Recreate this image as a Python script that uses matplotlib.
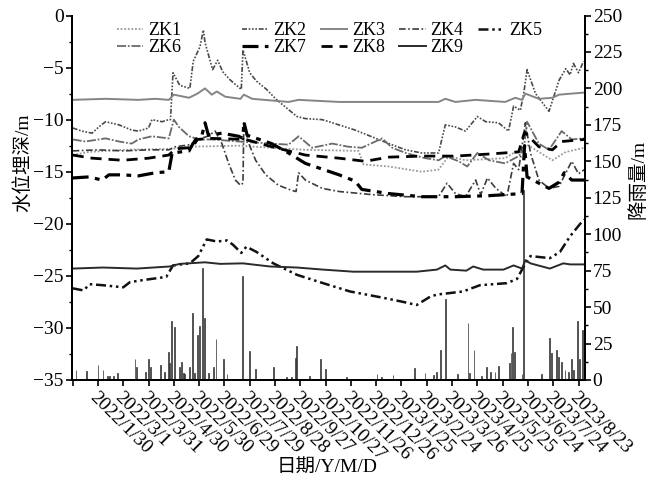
import matplotlib
matplotlib.use('Agg')
import matplotlib.pyplot as plt
import matplotlib.dates as mdates
from matplotlib.ticker import MultipleLocator
import numpy as np
import pandas as pd

plt.rcParams['font.family'] = ['Liberation Serif', 'Noto Sans CJK SC']
plt.rcParams['axes.unicode_minus'] = True

BASE = '2021-12-31'   # day 0 of every *_days list

# ---------------- data (days after BASE, water level in m) ----------------
zk1_days = [0, 19, 59, 118, 138, 197, 236, 276, 339, 345, 375, 414, 434, 446, 466, 513, 529, 539, 561, 569, 585, 607]
zk1_vals = [-13.4, -13.1, -12.9, -12.8, -12.6, -12.5, -12.7, -12.9, -13.0, -14.3, -14.5, -15.0, -14.8, -13.5, -13.9,
            -13.7, -12.9, -12.4, -13.5, -13.9, -13.1, -12.7]

zk2_days = [0, 11, 23, 31, 39, 55, 70, 78, 90, 94, 106, 114, 116, 119, 127, 139, 143, 151, 155, 157, 166, 172, 178,
            187, 200, 202, 210, 218, 230, 242, 257, 266, 276, 296, 304, 335, 375, 395, 414, 434, 442, 454, 466, 480,
            490, 505, 517, 523, 531, 535, 539, 549, 565, 577, 585, 590, 594, 600, 606]
zk2_vals = [-10.8, -11.1, -11.3, -10.7, -10.2, -10.5, -11.0, -11.1, -10.8, -10.0, -10.2, -10.0, -10.0, -5.5, -6.7,
            -7.0, -4.4, -3.0, -1.4, -2.6, -5.2, -4.3, -5.4, -6.2, -7.1, -3.3, -5.5, -6.3, -7.1, -8.1, -9.1, -9.7,
            -9.9, -10.0, -10.2, -11.0, -12.3, -12.9, -13.2, -13.2, -10.5, -10.7, -11.1, -9.7, -10.2, -10.3, -11.1,
            -8.7, -9.1, -7.5, -5.2, -7.5, -9.2, -6.2, -5.1, -5.7, -4.6, -5.5, -4.4]

zk3_days = [0, 39, 78, 98, 114, 120, 138, 148, 157, 165, 171, 181, 199, 203, 213, 256, 268, 316, 395, 434, 442, 454,
            478, 513, 525, 533, 537, 553, 569, 577, 592, 607]
zk3_vals = [-8.1, -8.0, -8.1, -8.0, -8.1, -7.6, -7.9, -7.5, -7.0, -7.6, -7.3, -7.8, -8.0, -7.6, -8.0, -8.3, -8.1,
            -8.3, -8.3, -8.3, -8.0, -8.3, -8.1, -8.3, -7.9, -8.1, -7.5, -8.0, -7.9, -7.6, -7.5, -7.4]

zk4_days = [0, 30, 60, 90, 114, 122, 140, 148, 160, 169, 177, 185, 193, 199, 202, 203, 209, 217, 229, 244, 260, 265,
            268, 276, 296, 316, 355, 395, 434, 444, 454, 466, 478, 484, 492, 502, 515, 523, 529, 533, 537, 543, 553,
            565, 577, 585, 592, 600, 607]
zk4_vals = [-13.0, -12.9, -13.0, -12.9, -12.9, -12.6, -12.4, -11.9, -11.6, -11.1, -12.3, -14.2, -15.8, -16.3, -16.1,
            -10.3, -12.3, -13.9, -15.3, -16.3, -16.8, -16.9, -15.1, -15.8, -16.6, -16.9, -17.2, -17.4, -17.4, -16.1,
            -17.1, -17.4, -15.8, -17.2, -15.6, -16.6, -17.4, -14.2, -14.8, -12.6, -10.3, -13.2, -15.8, -16.6, -16.4,
            -15.1, -14.0, -15.2, -14.8]

zk5_days = [0, 13, 20, 36, 60, 68, 84, 111, 119, 139, 149, 159, 171, 183, 190, 200, 206, 218, 238, 266, 297, 329,
            368, 392, 408, 424, 432, 463, 483, 515, 527, 537, 543, 566, 578, 590, 602, 607]
zk5_vals = [-26.2, -26.4, -25.8, -25.9, -26.1, -25.6, -25.4, -25.1, -24.0, -23.8, -23.1, -21.5, -21.7, -21.6, -22.0,
            -22.8, -22.2, -22.7, -23.8, -24.9, -25.7, -26.5, -27.1, -27.5, -27.8, -27.0, -26.8, -26.5, -25.9, -25.7,
            -25.3, -23.8, -23.1, -23.3, -22.7, -21.2, -20.0, -19.6]

zk6_days = [0, 15, 39, 55, 70, 78, 94, 114, 120, 126, 138, 150, 165, 197, 236, 256, 268, 284, 308, 327, 343, 367,
            379, 395, 418, 434, 442, 458, 468, 480, 494, 513, 529, 535, 539, 553, 565, 580, 592, 607]
zk6_vals = [-11.9, -12.1, -11.8, -12.1, -12.3, -11.9, -11.6, -11.8, -10.0, -10.7, -11.6, -11.9, -11.9, -12.1, -12.3,
            -12.4, -11.6, -12.7, -12.3, -12.6, -12.7, -11.8, -12.7, -13.2, -13.7, -13.9, -13.5, -14.0, -14.5, -13.2,
            -13.9, -14.2, -13.5, -12.9, -10.2, -12.3, -12.9, -11.1, -11.9, -11.8]

zk7_days = [0, 19, 35, 43, 59, 78, 98, 114, 118, 138, 142, 146, 153, 157, 161, 177, 197, 202, 203, 207, 236, 256,
            276, 316, 335, 343, 375, 414, 454, 494, 533, 536, 539, 553, 565, 577, 583, 592, 607]
zk7_vals = [-15.6, -15.5, -15.8, -15.3, -15.3, -15.4, -15.1, -15.0, -13.2, -13.0, -12.4, -11.9, -11.6, -10.3, -11.5,
            -11.3, -11.6, -11.8, -10.2, -11.5, -12.3, -13.2, -14.2, -15.3, -15.9, -16.7, -17.1, -17.4, -17.4, -17.3,
            -17.1, -12.5, -15.5, -16.1, -16.6, -16.0, -15.1, -15.8, -15.8]

zk8_days = [0, 23, 59, 90, 114, 122, 138, 144, 148, 165, 205, 236, 276, 316, 347, 375, 414, 454, 494, 529, 536, 553,
            569, 580, 607]
zk8_vals = [-13.4, -13.7, -13.9, -13.7, -13.4, -12.8, -12.7, -12.4, -11.9, -11.8, -11.9, -12.6, -13.4, -13.7, -14.0,
            -13.6, -13.5, -13.5, -13.3, -13.1, -11.2, -12.6, -12.9, -12.1, -11.9]

zk9_days = [0, 36, 76, 115, 127, 157, 175, 202, 234, 266, 297, 333, 392, 408, 432, 442, 448, 467, 475, 487, 511, 523,
            533, 537, 543, 566, 582, 590, 607]
zk9_vals = [-24.3, -24.2, -24.3, -24.1, -23.85, -23.7, -23.85, -23.8, -24.1, -24.2, -24.4, -24.6, -24.6, -24.6,
            -24.4, -24.0, -24.4, -24.5, -24.1, -24.4, -24.4, -24.0, -24.3, -23.5, -23.8, -24.3, -23.8, -23.9, -23.9]

# rainfall (days after BASE, mm)
rain_days = [4, 16, 30, 36, 41, 44, 48, 53, 74, 76, 86, 90, 92, 104, 109, 114, 115, 117, 121, 127, 129, 131, 133,
             139, 142, 145, 148, 150, 154, 156, 161, 167, 170, 179, 183, 201, 210, 217, 238, 254, 260, 264, 265, 281,
             294, 300, 325, 361, 366, 380, 400, 405, 418, 428, 432, 436, 442, 456, 469, 471, 476, 485, 491, 496, 501,
             505, 518, 520, 522, 524, 533, 535, 556, 566, 568, 574, 576, 580, 584, 588, 592, 594, 599, 601, 605, 607]
rain_mm = [6.8, 6.4, 10.2, 6.8, 2.5, 2.5, 2.5, 4.6, 14.6, 9.1, 5.7, 14.6, 9.1, 10.2, 5.7, 19.4, 11.4, 40.5, 36.4,
           9.1, 12.5, 4.6, 4.1, 9.1, 45.8, 4.6, 30.6, 36.9, 77.0, 42.6, 4.6, 9.1, 27.8, 14.1, 4.1, 71.0, 20.0, 7.5,
           9.1, 2.3, 2.3, 14.8, 23.4, 2.5, 14.1, 7.3, 2.3, 4.1, 2.3, 3.4, 0.5, 8.0, 4.6, 3.4, 5.7, 20.5, 55.3, 4.1,
           39.1, 4.6, 20.5, 2.7, 8.6, 5.7, 5.7, 9.6, 11.4, 18.2, 36.4, 19.4, 4.1, 130.0, 4.1, 28.5, 18.2, 20.5, 15.9,
           12.5, 6.8, 5.7, 14.1, 6.8, 40.5, 14.1, 34.1, 9.1]

series_names = ['ZK1', 'ZK2', 'ZK3', 'ZK4', 'ZK5', 'ZK6', 'ZK7', 'ZK8', 'ZK9']

# ---------------- styles ----------------
styles = {
    'ZK1': dict(color='#9a9a9a', lw=1.3, ls=(0, (1, 1))),
    'ZK2': dict(color='#4a4a4a', lw=1.2, ls=(0, (3, 1, 1, 1, 1, 1, 1, 1))),
    'ZK3': dict(color='#858585', lw=1.4, ls='-'),
    'ZK4': dict(color='#3c3c3c', lw=1.2, ls=(0, (4, 1.5, 1, 1.5))),
    'ZK5': dict(color='#111111', lw=1.8, ls=(0, (4, 1.5, 1, 1.5, 1, 1.5))),
    'ZK6': dict(color='#6a6a6a', lw=1.3, ls=(0, (5, 1, 1, 1))),
    'ZK7': dict(color='#000000', lw=2.3, ls=(0, (5, 2, 1.5, 2))),
    'ZK8': dict(color='#000000', lw=2.0, ls=(0, (4, 2.5))),
    'ZK9': dict(color='#2a2a2a', lw=1.4, ls='-'),
}

data = {
    'ZK1': (zk1_days, zk1_vals), 'ZK2': (zk2_days, zk2_vals), 'ZK3': (zk3_days, zk3_vals),
    'ZK4': (zk4_days, zk4_vals), 'ZK5': (zk5_days, zk5_vals), 'ZK6': (zk6_days, zk6_vals),
    'ZK7': (zk7_days, zk7_vals), 'ZK8': (zk8_days, zk8_vals), 'ZK9': (zk9_days, zk9_vals),
}

base_num = mdates.date2num(pd.Timestamp(BASE).to_pydatetime())

def xnum(days):
    return base_num + np.asarray(days, dtype=float)

fig = plt.figure(figsize=(6.58, 4.8), dpi=100)
ax1 = fig.add_axes([72 / 658, 1 - 380 / 480, 513 / 658, 364.5 / 480])
ax2 = ax1.twinx()

ax2.bar(xnum(rain_days), rain_mm, width=1.0, color='#7a7a7a', edgecolor='#2a2a2a', linewidth=0.5)
ax1.set_zorder(ax2.get_zorder() + 1)
ax1.patch.set_visible(False)

handles = {}
for name in series_names:
    d, v = data[name]
    st = styles[name]
    h, = ax1.plot(xnum(d), v, color=st['color'], lw=st['lw'], linestyle=st['ls'])
    handles[name] = h

ax1.set_xlim(xnum([-0.8])[0], xnum([607.7])[0])
ax1.set_ylim(-35, 0)
ax2.set_ylim(0, 250)

# ticks
tick_days = [30 * k for k in range(21)]
ax1.set_xticks(xnum(tick_days))
labels = []
for k, td in enumerate(tick_days):
    if k == 0:
        labels.append('')
    else:
        dt = pd.Timestamp(BASE) + pd.Timedelta(days=td)
        labels.append(f'{dt.year}/{dt.month}/{dt.day}')
ax1.set_xticklabels(labels)
plt.setp(ax1.get_xticklabels(), rotation=-45, ha='left', va='top', rotation_mode='anchor', fontsize=14)

ax1.yaxis.set_major_locator(MultipleLocator(5))
ax1.yaxis.set_minor_locator(MultipleLocator(2.5))
ax2.yaxis.set_major_locator(MultipleLocator(25))
ax2.yaxis.set_minor_locator(MultipleLocator(12.5))

ax1.tick_params(axis='both', which='major', direction='out', length=4.5, width=1.2, labelsize=14, pad=1.5)
ax1.tick_params(axis='y', which='minor', direction='out', length=2.5, width=1.0)
ax2.tick_params(axis='y', which='major', direction='out', length=4, width=1.2, labelsize=14, pad=1.5)
ax2.tick_params(axis='y', which='minor', direction='out', length=2.5, width=1.0)

for ax in (ax1, ax2):
    ax.spines['top'].set_visible(False)
    for s in ('left', 'right', 'bottom'):
        ax.spines[s].set_linewidth(1.4)

# labels
ax1.set_ylabel('水位埋深/m', fontsize=14)
ax1.yaxis.set_label_coords(-0.078, 0.595)
ax2.set_ylabel('降雨量/m', fontsize=14, rotation=90)
ax2.yaxis.set_label_coords(1.085, 0.55)
ax1.set_xlabel('日期/Y/M/D', fontsize=14)
ax1.xaxis.set_label_coords(0.497, -0.215)

# legends
leg_kw = dict(loc='upper left', bbox_transform=fig.transFigure, frameon=False, fontsize=13,
              handlelength=1.45, handletextpad=0.28, labelspacing=0.0, borderpad=0, borderaxespad=0)
leg1 = ax1.legend([handles['ZK1'], handles['ZK6']], ['ZK1', 'ZK6'], ncol=1,
                  bbox_to_anchor=(117 / 658, 1 - 22 / 480), **leg_kw)
ax1.add_artist(leg1)
order = ['ZK2', 'ZK7', 'ZK3', 'ZK8', 'ZK4', 'ZK9', 'ZK5']
ax1.legend([handles[n] for n in order], order, ncol=4, columnspacing=0.8,
           bbox_to_anchor=(242 / 658, 1 - 22 / 480), **leg_kw)

fig.savefig('out.png', dpi=100)
